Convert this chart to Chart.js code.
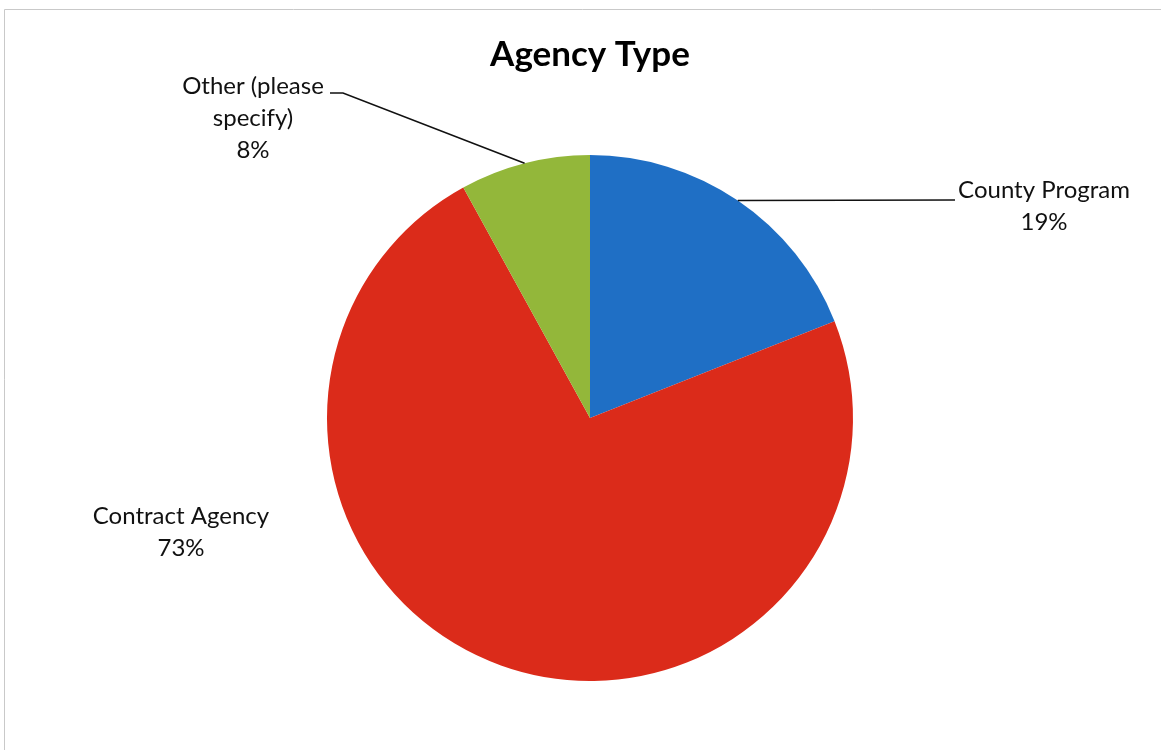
<!DOCTYPE html>
<html>
<head>
<meta charset="utf-8">
<script src="https://cdn.jsdelivr.net/npm/chart.js@4"></script>
<style>
  html, body { margin: 0; padding: 0; background: #fff; }
  #wrap { width: 1161px; height: 750px; position: relative; }
</style>
</head>
<body>
<div id="wrap"><canvas id="chart"></canvas></div>
<script>
const categories = ["County Program", "Contract Agency", "Other (please specify)"];
const shares = [19, 73, 8];
const sliceColors = ["#1f6fc5", "#db2b1a", "#93b73a"];

// label placement: text centre lines, plus optional leader elbow
const labelSpots = [
  { lines: ["County Program", "19%"], x: 1044, y: 190, elbow: { x: 955, y: 200 } },
  { lines: ["Contract Agency", "73%"], x: 181, y: 516, elbow: null },
  { lines: ["Other (please", "specify)", "8%"], x: 253, y: 86, elbow: { x: 343, y: 93 }, lineStart: { x: 330, y: 93 } },
];

const labelPlugin = {
  id: "agencyLabels",
  beforeDraw(chart) {
    const ctx = chart.ctx;
    ctx.save();
    ctx.strokeStyle = "#c9c9c9";
    ctx.lineWidth = 1;
    ctx.beginPath();
    ctx.moveTo(4.5, 750);
    ctx.lineTo(4.5, 9.5);
    ctx.lineTo(1161, 9.5);
    ctx.stroke();
    ctx.restore();
  },
  afterDatasetsDraw(chart) {
    const ctx = chart.ctx;
    const arcs = chart.getDatasetMeta(0).data;
    ctx.save();
    ctx.font = "24px Lato, 'Open Sans', sans-serif";
    ctx.fillStyle = "#111";
    ctx.textAlign = "center";
    ctx.textBaseline = "middle";
    arcs.forEach((arc, i) => {
      const spot = labelSpots[i];
      const p = arc.getProps(["x", "y", "startAngle", "endAngle", "outerRadius"], true);
      const mid = (p.startAngle + p.endAngle) / 2;
      const ax = p.x + Math.cos(mid) * p.outerRadius;
      const ay = p.y + Math.sin(mid) * p.outerRadius;
      if (spot.elbow) {
        ctx.strokeStyle = "#111";
        ctx.lineWidth = 1.6;
        ctx.beginPath();
        ctx.moveTo(ax, ay);
        ctx.lineTo(spot.elbow.x, spot.elbow.y);
        if (spot.lineStart) ctx.lineTo(spot.lineStart.x, spot.lineStart.y);
        ctx.stroke();
      }
      spot.lines.forEach((t, k) => {
        ctx.fillText(t, spot.x, spot.y + k * 32);
      });
    });
    ctx.restore();
  },
};

new Chart(document.getElementById("chart").getContext("2d"), {
  type: "pie",
  data: {
    labels: categories,
    datasets: [
      {
        data: shares,
        backgroundColor: sliceColors,
        borderWidth: 0,
      },
    ],
  },
  options: {
    responsive: true,
    maintainAspectRatio: false,
    animation: false,
    layout: { padding: { left: 100, right: 81, top: 0, bottom: 69 } },
    plugins: {
      legend: { display: false },
      tooltip: { enabled: false },
      title: {
        display: true,
        text: "Agency Type",
        color: "#000",
        font: { family: "Lato, 'Open Sans', sans-serif", size: 35, weight: "bold" },
        padding: { top: 34, bottom: 79 },
      },
    },
  },
  plugins: [labelPlugin],
});
</script>
</body>
</html>
